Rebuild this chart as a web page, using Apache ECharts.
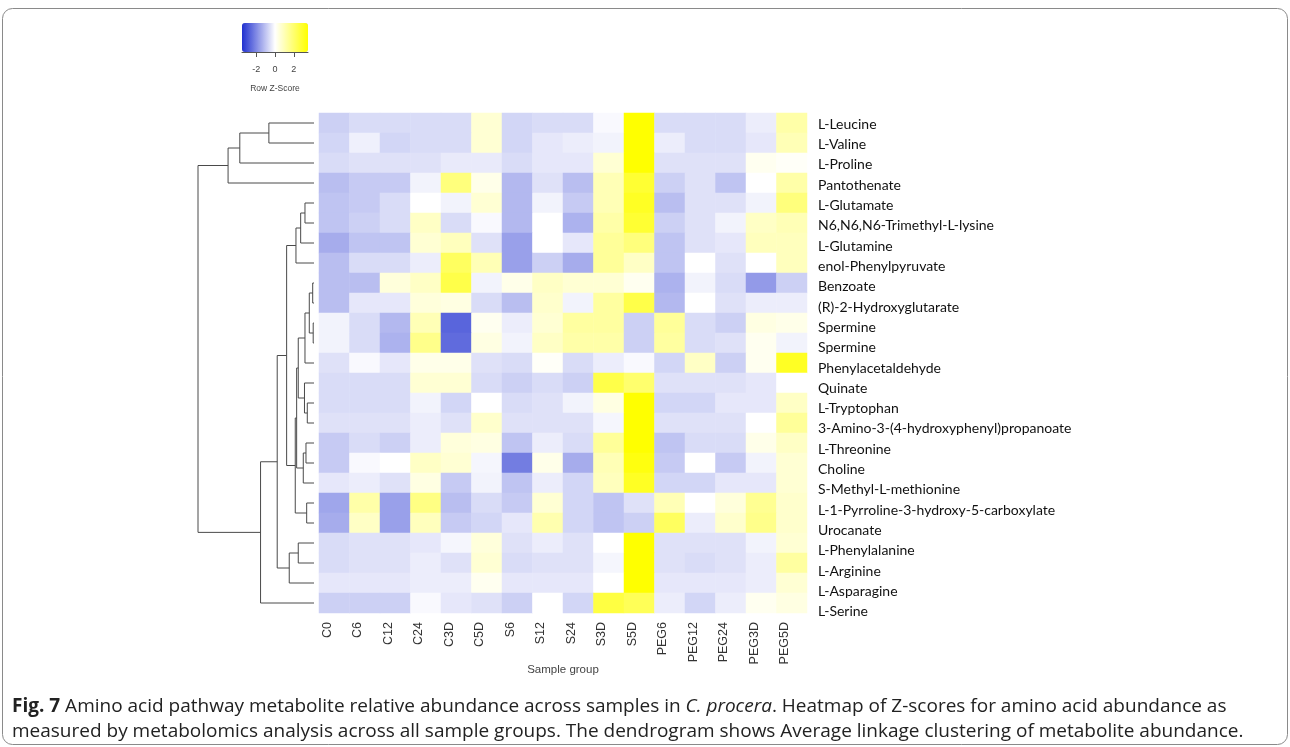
<!DOCTYPE html>
<html>
<head>
<meta charset="utf-8">
<script src="https://cdn.jsdelivr.net/npm/echarts@6/dist/echarts.min.js"></script>
<style>
  html, body { margin: 0; padding: 0; background: #ffffff; }
  #chart { width: 1290px; height: 747px; }
</style>
</head>
<body>
<div id="chart"></div>
<script>
// Metabolites (heatmap rows, top to bottom, in dendrogram order)
const rowNames = [
  'L-Leucine', 'L-Valine', 'L-Proline', 'Pantothenate', 'L-Glutamate',
  'N6,N6,N6-Trimethyl-L-lysine', 'L-Glutamine', 'enol-Phenylpyruvate', 'Benzoate',
  '(R)-2-Hydroxyglutarate', 'Spermine', 'Spermine', 'Phenylacetaldehyde', 'Quinate',
  'L-Tryptophan', '3-Amino-3-(4-hydroxyphenyl)propanoate', 'L-Threonine', 'Choline',
  'S-Methyl-L-methionine', 'L-1-Pyrroline-3-hydroxy-5-carboxylate', 'Urocanate',
  'L-Phenylalanine', 'L-Arginine', 'L-Asparagine', 'L-Serine'
];

// Sample groups (heatmap columns)
const sampleGroups = ['C0', 'C6', 'C12', 'C24', 'C3D', 'C5D', 'S6', 'S12', 'S24',
  'S3D', 'S5D', 'PEG6', 'PEG12', 'PEG24', 'PEG3D', 'PEG5D'];

// Row Z-scores, one array per metabolite, columns in sampleGroups order
const zLeucine      = [-0.8, -0.6, -0.6, -0.6, -0.6, 0.6, -0.7, -0.6, -0.6, -0.1, 3.5, -0.6, -0.6, -0.6, -0.3, 1.2];
const zValine       = [-0.7, -0.25, -0.7, -0.6, -0.6, 0.6, -0.7, -0.4, -0.3, -0.2, 3.5, -0.3, -0.6, -0.6, -0.4, 1.0];
const zProline      = [-0.6, -0.5, -0.5, -0.5, -0.35, -0.35, -0.6, -0.4, -0.4, 0.6, 3.5, -0.5, -0.5, -0.5, 0.2, 0.1];
const zPantothenate = [-1.1, -0.9, -0.9, -0.2, 1.8, 0.3, -1.2, -0.5, -1.1, 1.0, 2.8, -0.8, -0.5, -1.0, 0.0, 1.2];
const zGlutamate    = [-1.0, -0.9, -0.6, 0.0, -0.2, 0.6, -1.2, -0.2, -0.9, 1.0, 3.0, -1.1, -0.5, -0.5, -0.2, 1.8];
const zTrimethylLys = [-1.0, -0.8, -0.6, 0.8, -0.6, -0.1, -1.2, 0.0, -1.3, 1.2, 2.8, -0.8, -0.5, -0.2, 0.8, 1.0];
const zGlutamine    = [-1.4, -1.0, -1.0, 0.6, 0.9, -0.5, -1.6, 0.0, -0.4, 1.4, 1.8, -1.0, -0.5, -0.4, 0.9, 0.9];
const zEnolPhenylpy = [-1.1, -0.6, -0.6, -0.3, 2.2, 1.0, -1.6, -0.8, -1.4, 1.4, 0.8, -1.0, 0.0, -0.5, 0.0, 0.9];
const zBenzoate     = [-1.1, -1.1, 0.5, 0.8, 2.5, -0.2, 0.3, 0.8, 0.6, 0.6, 0.2, -1.3, -0.2, -0.6, -1.7, -0.8];
const zHydroxyglut  = [-1.1, -0.4, -0.4, 0.5, 0.4, -0.6, -1.1, 0.7, -0.2, 1.3, 2.5, -1.2, 0.0, -0.5, -0.3, -0.3];
const zSpermineA    = [-0.2, -0.6, -1.2, 1.0, -2.6, 0.2, -0.3, 0.6, 1.3, 1.3, -0.8, 1.4, -0.6, -0.8, 0.4, 0.3];
const zSpermineB    = [-0.2, -0.6, -1.3, 1.6, -2.5, 0.4, -0.2, 0.8, 1.2, 1.2, -0.8, 1.3, -0.6, -0.5, 0.2, -0.2];
const zPhenylacet   = [-0.5, -0.1, -0.4, 0.3, 0.3, -0.5, -0.6, 0.1, -0.6, -0.3, -0.1, -0.7, 0.8, -0.8, 0.2, 3.0];
const zQuinate      = [-0.6, -0.6, -0.6, 0.6, 0.6, -0.6, -0.8, -0.6, -0.8, 2.5, 2.0, -0.5, -0.5, -0.5, -0.4, 0.0];
const zTryptophan   = [-0.6, -0.6, -0.6, -0.2, -0.7, 0.0, -0.6, -0.5, -0.2, 0.4, 3.5, -0.7, -0.7, -0.4, -0.4, 0.8];
const zAminoHydroxy = [-0.5, -0.5, -0.5, -0.3, -0.5, 0.7, -0.5, -0.5, -0.5, -0.15, 3.5, -0.5, -0.5, -0.5, 0.0, 1.4];
const zThreonine    = [-0.9, -0.6, -0.8, -0.3, 0.5, 0.4, -1.0, -0.3, -0.6, 1.4, 3.5, -1.0, -0.6, -0.6, 0.3, 0.8];
const zCholine      = [-0.9, -0.1, 0.0, 0.8, 0.6, -0.15, -2.2, 0.3, -1.4, 1.0, 3.3, -0.9, 0.0, -0.9, -0.2, 0.6];
const zSMethylMet   = [-0.4, -0.3, -0.5, 0.4, -0.9, -0.2, -1.0, -0.3, -0.7, 0.9, 3.0, -0.7, -0.7, -0.4, -0.4, 0.6];
const zPyrroline    = [-1.5, 1.2, -1.6, 1.7, -1.1, -0.6, -0.9, 0.6, -0.7, -1.0, -0.5, 1.0, 0.0, 0.5, 1.5, 0.7];
const zUrocanate    = [-1.4, 0.8, -1.6, 0.9, -0.9, -0.7, -0.4, 1.1, -0.7, -1.0, -0.8, 2.2, -0.3, 0.7, 1.6, 0.7];
const zPhenylalan   = [-0.6, -0.5, -0.5, -0.4, -0.15, 0.5, -0.5, -0.3, -0.5, 0.0, 3.5, -0.5, -0.5, -0.5, -0.2, 0.6];
const zArginine     = [-0.6, -0.5, -0.5, -0.3, -0.5, 0.6, -0.6, -0.5, -0.5, -0.15, 3.5, -0.5, -0.6, -0.5, -0.3, 1.3];
const zAsparagine   = [-0.4, -0.4, -0.4, -0.3, -0.3, 0.2, -0.4, -0.4, -0.4, 0.0, 3.5, -0.4, -0.4, -0.4, -0.3, 0.6];
const zSerine       = [-0.8, -0.8, -0.8, -0.1, -0.4, -0.5, -0.8, 0.0, -0.7, 2.6, 2.3, -0.3, -0.7, -0.3, 0.2, 0.4];

const zScores = [zLeucine, zValine, zProline, zPantothenate, zGlutamate, zTrimethylLys,
  zGlutamine, zEnolPhenylpy, zBenzoate, zHydroxyglut, zSpermineA, zSpermineB, zPhenylacet,
  zQuinate, zTryptophan, zAminoHydroxy, zThreonine, zCholine, zSMethylMet, zPyrroline,
  zUrocanate, zPhenylalan, zArginine, zAsparagine, zSerine];

// Average-linkage merges, hclust style: negative = leaf (row number), positive = earlier merge step
const mergeLeft   = [-11, -9, 2, -15, -20, -17, -5, 3, -14, 6, 7, 8, -22, 12, 11, 14, 15, 13, 17, 19, -1, 21, 22, 23];
const mergeRight  = [-12, -10, 1, -16, -21, -18, -6, -13, 4, -19, -7, 9, -23, 10, -8, 5, 16, -24, 18, -25, -2, -3, -4, 20];
const mergeHeight = [0.8, 1.3, 4.7, 6.7, 7.3, 8.0, 9.0, 9.0, 9.5, 10.7, 13.3, 15.7, 15.7, 17.3, 18.0, 18.7, 27.3, 24.7, 36.7, 53.3, 45.0, 74.0, 85.7, 115.7];

// Colour key
const keyRange = [-3.5, 3.5];
const keyTicks = [-2, 0, 2];

// Heatmap cells
const heatData = [];
zScores.forEach((row, r) => row.forEach((v, c) => heatData.push([c, r, v])));

// Dendrogram elbows built from the merge table
const nodeY = [], nodeH = [];
const dendroLines = [];
function childPos(id) {
  if (id < 0) return { y: -id - 1, h: 0 };
  return { y: nodeY[id - 1], h: nodeH[id - 1] };
}
for (let i = 0; i < mergeLeft.length; i++) {
  const a = childPos(mergeLeft[i]);
  const b = childPos(mergeRight[i]);
  const h = mergeHeight[i];
  nodeY.push((a.y + b.y) / 2);
  nodeH.push(h);
  dendroLines.push({ coords: [[a.h, a.y], [h, a.y], [h, b.y], [b.h, b.y]] });
}
const rootHeight = Math.max(...mergeHeight);

const chart = echarts.init(document.getElementById('chart'), null, { renderer: 'canvas' });

const labelFont = 'Liberation Sans';
const captionFont = 'Open Sans';
const captionSize = 19;

chart.setOption({
  backgroundColor: '#ffffff',
  animation: false,
  grid: [
    { left: 319, top: 113, width: 488, height: 500 },   // heatmap
    { left: 198, top: 113, width: 116, height: 500 },   // row dendrogram
    { left: 319, top: 114, width: 488, height: 508 },   // metabolite names
    { left: 312, top: 113, width: 488, height: 500 },   // sample names
    { left: 242, top: 23, width: 66, height: 29 }       // colour key scale
  ],
  xAxis: [
    { gridIndex: 0, type: 'category', data: sampleGroups,
      axisLine: { show: false }, axisTick: { show: false }, axisLabel: { show: false },
      splitLine: { show: false },
      name: 'Sample group', nameLocation: 'middle', nameGap: 51,
      nameTextStyle: { fontFamily: labelFont, fontSize: 11.5, color: '#444' } },
    { gridIndex: 1, type: 'value', inverse: true, min: 0, max: rootHeight, show: false },
    { gridIndex: 2, type: 'category', data: sampleGroups, show: false },
    { gridIndex: 3, type: 'category', data: sampleGroups,
      axisLine: { show: false }, axisTick: { show: false }, splitLine: { show: false },
      axisLabel: { rotate: 90, margin: 9, fontFamily: labelFont, fontSize: 12.5, color: '#333' } },
    { gridIndex: 4, type: 'value', min: keyRange[0], max: keyRange[1],
      splitLine: { show: false },
      axisLine: { show: true, lineStyle: { color: '#555', width: 1 } },
      axisTick: { show: true, customValues: keyTicks, length: 5, lineStyle: { color: '#555' } },
      axisLabel: { customValues: keyTicks, fontFamily: labelFont, fontSize: 9, color: '#444', margin: 13 },
      name: 'Row Z-Score', nameLocation: 'middle', nameGap: 32,
      nameTextStyle: { fontFamily: labelFont, fontSize: 8.5, color: '#444' } }
  ],
  yAxis: [
    { gridIndex: 0, type: 'category', data: rowNames, inverse: true, show: false },
    { gridIndex: 1, type: 'value', inverse: true, min: -0.5, max: rowNames.length - 0.5, show: false },
    { gridIndex: 2, type: 'category', data: rowNames, inverse: true, position: 'right',
      axisLine: { show: false }, axisTick: { show: false }, splitLine: { show: false },
      axisLabel: { margin: 11, fontFamily: 'Lato', fontSize: 14, color: '#111' } },
    { gridIndex: 3, type: 'value', show: false },
    { gridIndex: 4, type: 'value', show: false }
  ],
  visualMap: {
    type: 'continuous',
    min: keyRange[0], max: keyRange[1],
    seriesIndex: 0,
    orient: 'horizontal',
    left: 242, top: 23,
    itemWidth: 29, itemHeight: 66,
    padding: 0,
    calculable: false,
    hoverLink: false,
    showLabel: false,
    inRange: { color: ['#2030d0', '#ffffff', '#ffff00'] }
  },
  series: [
    { type: 'heatmap', xAxisIndex: 0, yAxisIndex: 0, data: heatData,
      itemStyle: { borderWidth: 0 }, emphasis: { disabled: true }, silent: true },
    { type: 'lines', coordinateSystem: 'cartesian2d', xAxisIndex: 1, yAxisIndex: 1,
      polyline: true, silent: true, data: dendroLines,
      lineStyle: { color: '#4a4a4a', width: 1, opacity: 1 } }
  ],
  graphic: [
    { type: 'rect', silent: true, z: -1,
      shape: { x: 2.5, y: 8.5, width: 1285, height: 736, r: 10 },
      style: { fill: 'none', stroke: '#8a8a8a', lineWidth: 1 } },
    { type: 'text', silent: true, left: 12, top: 697,
      style: {
        text: '{b|Fig. 7} Amino acid pathway metabolite relative abundance across samples in {i|C. procera}. Heatmap of Z-scores for amino acid abundance as',
        fontFamily: captionFont, fontSize: captionSize, fill: '#222',
        rich: {
          b: { fontFamily: captionFont, fontSize: captionSize, fontWeight: 'bold', fill: '#222' },
          i: { fontFamily: captionFont, fontSize: captionSize, fontStyle: 'italic', fill: '#222' }
        }
      } },
    { type: 'text', silent: true, left: 12, top: 722,
      style: {
        text: 'measured by metabolomics analysis across all sample groups. The dendrogram shows Average linkage clustering of metabolite abundance.',
        fontFamily: captionFont, fontSize: captionSize, fill: '#222'
      } }
  ]
});
</script>
</body>
</html>
